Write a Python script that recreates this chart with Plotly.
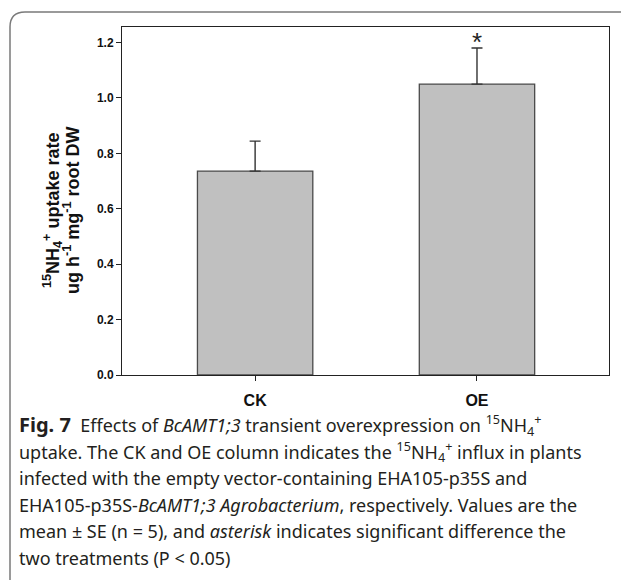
import plotly.graph_objects as go

# ---------------- data ----------------
categories = ["CK", "OE"]
uptake_mean = [0.736, 1.050]
uptake_se = [0.108, 0.130]
significance = ["", "*"]
y_ticks = [0.0, 0.2, 0.4, 0.6, 0.8, 1.0, 1.2]
y_tick_labels = ["0.0", "0.2", "0.4", "0.6", "0.8", "1.0", "1.2"]
y_title_lines = [
    "<sup>15</sup>NH<sub>4</sub><sup>+</sup> uptake rate",
    "ug h<sup>-1</sup> mg<sup>-1</sup> root DW",
]
caption_lines = [
    "<span style='font-size:20px'><b>Fig. 7</b></span>  Effects of <i>BcAMT1;3</i> transient overexpression on <sup>15</sup>NH<sub>4</sub><sup>+</sup>",
    "uptake. The CK and OE column indicates the <sup>15</sup>NH<sub>4</sub><sup>+</sup> influx in plants",
    "infected with the empty vector-containing EHA105-p35S and",
    "EHA105-p35S-<i>BcAMT1;3 Agrobacterium</i>, respectively. Values are the",
    "mean ± SE (n = 5), and <i>asterisk</i> indicates significant difference the",
    "two treatments (P < 0.05)",
]

# ---------------- layout constants (page pixels) ----------------
OFF = 8                      # default page body margin
W, H = 629, 580
PL, PR, PT, PB = 122, 609, 27, 375   # plot area edges on the page
pw, ph = PR - PL, PB - PT

def px(x):
    return (x - PL) / pw

def py(y):
    return (PB - y) / ph

fig = go.Figure()
fig.add_trace(go.Bar(
    x=categories,
    y=uptake_mean,
    width=0.52,
    marker=dict(color="#c0c0c0", line=dict(color="#4a4a4a", width=1.3)),
    error_y=dict(type="data", symmetric=False, array=uptake_se,
                 arrayminus=[0] * len(uptake_se),
                 color="#333333", thickness=1.4, width=5.5),
    showlegend=False,
))

annotations = []
for c, m, s, t in zip(categories, uptake_mean, uptake_se, significance):
    if t:
        annotations.append(dict(x=c, y=m + s, xref="x", yref="y", text=t,
                                showarrow=False, yanchor="bottom", yshift=-11,
                                font=dict(family="Liberation Sans", size=26, color="#222")))

# y-axis title (two rotated lines)
for line, xx in zip(y_title_lines, [52, 71]):
    annotations.append(dict(
        x=px(xx), y=py(211), xref="paper", yref="paper", text="<b>%s</b>" % line,
        textangle=-90, showarrow=False, xanchor="center", yanchor="middle",
        font=dict(family="Liberation Sans", size=18, color="#111"),
    ))

# caption lines
cap_y = [425, 451.5, 478, 504.5, 531, 557.5]
for line, yy in zip(caption_lines, cap_y):
    annotations.append(dict(
        x=px(17), y=py(yy), xref="paper", yref="paper", text=line,
        showarrow=False, xanchor="left", yanchor="middle", align="left",
        font=dict(family="Noto Sans", size=18, color="#231f20"),
    ))

# rounded frame around figure + caption
L, T, R, B, r = 10, 12, 640, 595, 15
path = (f"M {px(L)},{py(B)} L {px(L)},{py(T + r)} Q {px(L)},{py(T)} {px(L + r)},{py(T)} "
        f"L {px(R - r)},{py(T)} Q {px(R)},{py(T)} {px(R)},{py(T + r)} L {px(R)},{py(B)}")

fig.update_layout(
    width=W - OFF, height=H - OFF,
    margin=dict(l=PL - OFF, r=W - PR, t=PT - OFF, b=H - PB, pad=0),
    paper_bgcolor="white", plot_bgcolor="white",
    font=dict(family="Liberation Sans", color="#111"),
    annotations=annotations,
    shapes=[dict(type="path", path=path, xref="paper", yref="paper",
                 line=dict(color="#7a7a7a", width=1.5))],
    xaxis=dict(range=[-0.6, 1.595], showline=True, linecolor="#222", linewidth=1,
               mirror=True, ticks="outside", ticklen=5, tickcolor="#222",
               tickfont=dict(family="Liberation Sans", size=16, color="#111"),
               tickprefix="<b>", ticksuffix="</b>", ticklabelstandoff=6,
               showgrid=False, zeroline=False),
    yaxis=dict(range=[0, 1.256], showline=True, linecolor="#222", linewidth=1,
               mirror=True, ticks="outside", ticklen=5, tickcolor="#222",
               tickvals=y_ticks, ticktext=["<b>%s</b>" % t for t in y_tick_labels],
               tickfont=dict(family="Liberation Sans", size=12, color="#111"),
               showgrid=False, zeroline=False),
)

fig.write_html("out.html")
